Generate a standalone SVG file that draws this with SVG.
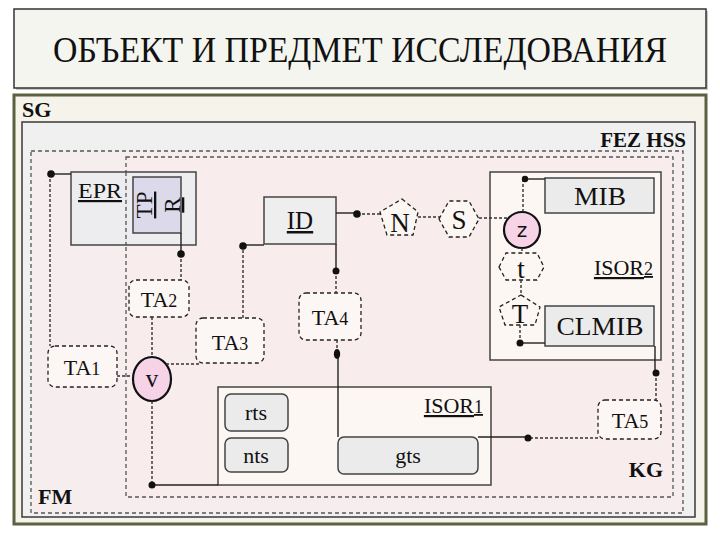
<svg xmlns="http://www.w3.org/2000/svg" width="720" height="540" viewBox="0 0 720 540">
<style>
text{font-family:"Liberation Serif","Times New Roman",serif;fill:#111;}
.b{font-weight:bold;}
.reg{stroke-dasharray:4,3;stroke:#555;stroke-width:1.3;}
.ta{fill:#fcf7f4;stroke:#222;stroke-width:1.3;stroke-dasharray:4,3;}
.sh{fill:#fcf7f2;stroke:#222;stroke-width:1.3;stroke-dasharray:4,3;}
.box{fill:#ebebeb;stroke:#444;stroke-width:1.5;}
.isor{fill:#fdf7f3;stroke:#444;stroke-width:1.5;}
.circ{fill:#f7d3e7;stroke:#111;stroke-width:2.2;}
.sol{stroke:#222;stroke-width:1.4;fill:none;}
.dsh{stroke:#333;stroke-width:1.4;fill:none;stroke-dasharray:3,2;}
.dot{fill:#111;}
.lbl{font-size:22px;text-anchor:middle;}
.big{font-size:25px;text-anchor:middle;}
.sub{font-size:18px;}
</style>
<rect x="0" y="0" width="720" height="540" fill="#ffffff"/>
<g id="title">
<rect x="16" y="11" width="692" height="79" fill="#c8c8c0"/>
<rect x="14" y="9" width="692" height="79" fill="#f4f5ef" stroke="#333" stroke-width="1.5"/>
<text x="360" y="62" font-size="35" text-anchor="middle" textLength="614" lengthAdjust="spacingAndGlyphs">ОБЪЕКТ И ПРЕДМЕТ ИССЛЕДОВАНИЯ</text>
</g>
<g id="frame">
<rect x="14" y="95" width="692" height="429" fill="#f5f3ea" stroke="#5b6141" stroke-width="3"/>
</g>
<g id="SG">
<rect x="22" y="122" width="673" height="395" fill="#f0f0f1" stroke="#3a3a3a" stroke-width="1.5"/>
<text x="22" y="117" class="b" font-size="22">SG</text>
<text x="686" y="147" class="b" font-size="21" text-anchor="end">FEZ HSS</text>
</g>
<g id="FM">
<rect x="31" y="151" width="652" height="362" fill="#f6eeee" class="reg"/>
<text x="38" y="504" class="b" font-size="22">FM</text>
</g>
<g id="KG">
<rect x="126" y="157" width="547" height="340" fill="#f8ecec" class="reg"/>
<text x="663" y="477" class="b" font-size="22" text-anchor="end">KG</text>
</g>
<g id="EPR">
<rect x="71" y="172" width="125" height="73" fill="#ebebee" fill-opacity="0.92" stroke="#444" stroke-width="1.5"/>
<text x="78" y="198" font-size="22" text-decoration="underline" textLength="44" lengthAdjust="spacingAndGlyphs">EPR</text>
</g>
<line x1="126" y1="172" x2="126" y2="245" class="reg"/>
<g id="TPR">
<rect x="133" y="177" width="48" height="56" fill="#dcdaea" stroke="#444" stroke-width="1.5"/>
<text transform="translate(152,205) rotate(-90)" font-size="23" text-anchor="middle" text-decoration="underline">TP</text>
<text transform="translate(180,205) rotate(-90)" font-size="23" text-anchor="middle" text-decoration="underline">R</text>
</g>
<g id="ID">
<rect x="264" y="197" width="72" height="47" fill="#eeeeee" stroke="#444" stroke-width="1.5"/>
<text x="300" y="229" class="big" text-decoration="underline">ID</text>
</g>
<g id="N">
<polygon points="402,199 418,212 413,235 387,235 380,212" class="sh"/>
<text x="400" y="232" font-size="27" text-anchor="middle">N</text>
</g>
<g id="S">
<polygon points="439,219 449,201 469,201 479,219 469,237 449,237" class="sh"/>
<text x="459" y="229" font-size="27" text-anchor="middle">S</text>
</g>
<g id="ISOR2">
<rect x="490" y="172" width="171" height="188" class="isor"/>
<text x="653" y="275" font-size="22" text-anchor="end" text-decoration="underline">ISOR<tspan class="sub">2</tspan></text>
</g>
<g id="MIB">
<rect x="545" y="178" width="109" height="35" class="box"/>
<text x="600" y="205" class="big" font-size="26" textLength="52" lengthAdjust="spacingAndGlyphs">MIB</text>
</g>
<g id="CLMIB">
<rect x="545" y="306" width="109" height="40" class="box"/>
<text x="600" y="335" class="big" font-size="26" textLength="87" lengthAdjust="spacingAndGlyphs">CLMIB</text>
</g>
<g id="z">
<circle cx="522" cy="230" r="18" class="circ"/>
<text x="522" y="237" font-size="20" text-anchor="middle" style="font-family:'DejaVu Sans','Liberation Sans',sans-serif">z</text>
</g>
<g id="t">
<polygon points="499,267 506,253 537,253 544,267 537,280 506,280" class="sh"/>
<text x="521" y="278" font-size="27" text-anchor="middle">t</text>
</g>
<g id="T">
<polygon points="521,295 540,307 535,325 505,325 499,307" class="sh"/>
<text x="520" y="323" font-size="27" text-anchor="middle">T</text>
</g>
<g id="TA1">
<rect x="48" y="346" width="69" height="41" rx="7" class="ta"/>
<text x="82" y="375" class="lbl">TA<tspan class="sub">1</tspan></text>
</g>
<g id="TA2">
<rect x="129" y="280" width="60" height="37" rx="7" class="ta"/>
<text x="159" y="307" class="lbl">TA<tspan class="sub">2</tspan></text>
</g>
<g id="TA3">
<rect x="196" y="318" width="68" height="45" rx="7" class="ta"/>
<text x="230" y="350" class="lbl">TA<tspan class="sub">3</tspan></text>
</g>
<g id="TA4">
<rect x="299" y="293" width="62" height="47" rx="7" class="ta"/>
<text x="330" y="325" class="lbl">TA<tspan class="sub">4</tspan></text>
</g>
<g id="TA5">
<rect x="598" y="400" width="63" height="39" rx="7" class="ta"/>
<text x="630" y="428" class="lbl">TA<tspan class="sub">5</tspan></text>
</g>
<g id="v">
<ellipse cx="152" cy="379" rx="19" ry="22" class="circ"/>
<text x="152" y="387" font-size="25" text-anchor="middle">v</text>
</g>
<g id="ISOR1">
<rect x="218" y="387" width="273" height="98" class="isor"/>
<text x="483" y="413" font-size="22" text-anchor="end" text-decoration="underline">ISOR<tspan class="sub">1</tspan></text>
</g>
<g id="rts">
<rect x="225" y="394" width="63" height="37" rx="6" class="box"/>
<text x="256" y="420" class="lbl">rts</text>
</g>
<g id="nts">
<rect x="225" y="438" width="63" height="34" rx="6" class="box"/>
<text x="256" y="463" class="lbl">nts</text>
</g>
<g id="gts">
<rect x="338" y="437" width="140" height="37" rx="6" class="box"/>
<text x="408" y="463" class="lbl">gts</text>
</g>
<g id="connectors">
<line x1="50" y1="174" x2="71" y2="174" class="sol"/>
<line x1="50" y1="174" x2="50" y2="346" class="dsh"/>
<circle cx="51" cy="174" r="3.8" class="dot"/>
<line x1="117" y1="376" x2="133" y2="376" class="dsh"/>
<line x1="181" y1="233" x2="181" y2="254" class="sol"/>
<line x1="181" y1="254" x2="181" y2="280" class="dsh"/>
<circle cx="181" cy="254" r="3.8" class="dot"/>
<line x1="152" y1="317" x2="152" y2="357" class="dsh"/>
<line x1="166" y1="364" x2="200" y2="364" class="dsh"/>
<line x1="243" y1="318" x2="243" y2="246" class="dsh"/>
<line x1="243" y1="245" x2="264" y2="245" class="sol"/>
<circle cx="243" cy="246" r="3.8" class="dot"/>
<line x1="336" y1="244" x2="336" y2="271" class="sol"/>
<line x1="336" y1="271" x2="336" y2="293" class="dsh"/>
<circle cx="336" cy="271" r="3.5" class="dot"/>
<line x1="337" y1="340" x2="337" y2="354" class="dsh"/>
<line x1="338" y1="354" x2="338" y2="437" class="sol"/>
<ellipse cx="337" cy="354" rx="3.2" ry="5" class="dot"/>
<line x1="336" y1="213" x2="357" y2="213" class="sol"/>
<line x1="357" y1="214" x2="381" y2="214" class="dsh"/>
<circle cx="357" cy="214" r="3.8" class="dot"/>
<line x1="418" y1="217" x2="440" y2="217" class="dsh"/>
<line x1="479" y1="218" x2="509" y2="218" class="dsh"/>
<line x1="523" y1="212" x2="523" y2="179" class="dsh"/>
<line x1="525" y1="179" x2="545" y2="179" class="sol"/>
<circle cx="525" cy="179" r="3.2" class="dot"/>
<line x1="522" y1="248" x2="522" y2="253" class="dsh"/>
<line x1="521" y1="280" x2="521" y2="295" class="dsh"/>
<line x1="520" y1="325" x2="520" y2="343" class="dsh"/>
<line x1="520" y1="343" x2="545" y2="343" class="sol"/>
<circle cx="520" cy="343" r="3.5" class="dot"/>
<line x1="655" y1="346" x2="655" y2="373" class="sol"/>
<line x1="656" y1="373" x2="656" y2="400" class="dsh"/>
<circle cx="656" cy="373" r="3.5" class="dot"/>
<line x1="598" y1="438" x2="528" y2="438" class="dsh"/>
<line x1="528" y1="437" x2="478" y2="437" class="sol"/>
<circle cx="528" cy="438" r="3.5" class="dot"/>
<line x1="152" y1="401" x2="152" y2="485" class="dsh"/>
<line x1="152" y1="485" x2="218" y2="485" class="sol"/>
<circle cx="152" cy="485" r="3.5" class="dot"/>
</g>
</svg>
